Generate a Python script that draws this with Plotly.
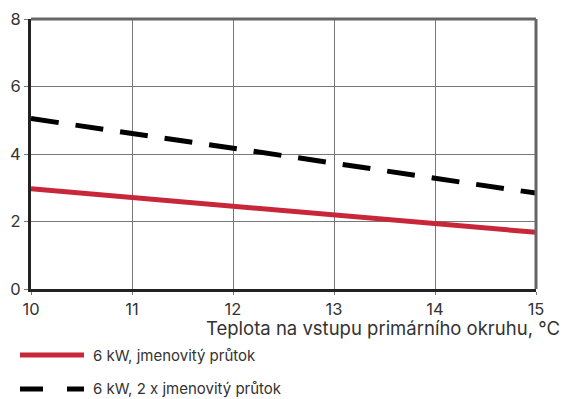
import plotly.graph_objects as go

temps = [10, 11, 12, 13, 14, 15]
nominal = [2.97, 2.71, 2.45, 2.19, 1.94, 1.68]
double_flow = [5.05, 4.62, 4.18, 3.73, 3.28, 2.84]
series_names = ["6 kW, jmenovitý průtok", "6 kW, 2 x jmenovitý průtok"]
y_ticks = [0, 2, 4, 6, 8]
x_title = "Teplota na vstupu primárního okruhu, °C"

FONT = "Inter"
TXT = "#333333"

fig = go.Figure()
fig.add_trace(go.Scatter(x=temps, y=nominal, mode="lines",
                         line=dict(color="#c8273a", width=5), name=series_names[0],
                         showlegend=False))
fig.add_trace(go.Scatter(x=temps, y=double_flow, mode="lines",
                         line=dict(color="#000000", width=5, dash="28px,17px"),
                         name=series_names[1], showlegend=False))

fig.update_layout(
    width=563, height=399,
    margin=dict(l=31, r=27, t=19, b=110, autoexpand=False),
    paper_bgcolor="white", plot_bgcolor="white",
    font=dict(family=FONT, color=TXT),
    xaxis=dict(range=[10, 15], tickvals=temps, showgrid=True, gridcolor="#777777",
               gridwidth=1, showline=True, linecolor="#222222", linewidth=3,
               ticks="outside", ticklen=3, tickcolor="#777777", zeroline=False,
               automargin=False, tickfont=dict(size=16.5, color=TXT)),
    yaxis=dict(range=[0, 8], tickvals=y_ticks, showgrid=True, gridcolor="#777777",
               gridwidth=1, showline=True, linecolor="#222222", linewidth=3,
               ticks="outside", ticklen=4, tickcolor="#777777", zeroline=False,
               automargin=False, tickfont=dict(size=16.5, color=TXT)),
)

# top and right frame (gray)
fig.add_shape(type="line", xref="paper", yref="paper", x0=0, x1=1, y0=1, y1=1,
              line=dict(color="#666666", width=3))
fig.add_shape(type="line", xref="paper", yref="paper", x0=1, x1=1, y0=0, y1=1,
              line=dict(color="#666666", width=3))

pw = 505.0
ph = 270.0
def px(xp):
    return (xp - 31) / pw
def py(yp):
    return (289 - yp) / ph

# axis title
fig.add_annotation(text=x_title, xref="paper", yref="paper", x=px(562), y=py(328),
                   xanchor="right", yanchor="middle", showarrow=False,
                   font=dict(size=18.5, color=TXT, family=FONT))

# legend (manual)
fig.add_shape(type="line", xref="paper", yref="paper", x0=px(20), x1=px(84),
              y0=py(355), y1=py(355), line=dict(color="#c8273a", width=5))
fig.add_shape(type="line", xref="paper", yref="paper", x0=px(20), x1=px(84),
              y0=py(389), y1=py(389), line=dict(color="#000000", width=5, dash="23px,24px"))
for i, yy in enumerate([355, 389]):
    fig.add_annotation(text=series_names[i], xref="paper", yref="paper",
                       x=px(91), y=py(yy), xanchor="left", yanchor="middle",
                       showarrow=False, font=dict(size=15, color=TXT, family=FONT))

fig.write_html("out.html", config={"displayModeBar": False},
               post_script="document.body.style.margin='0';document.body.style.overflow='hidden';")
